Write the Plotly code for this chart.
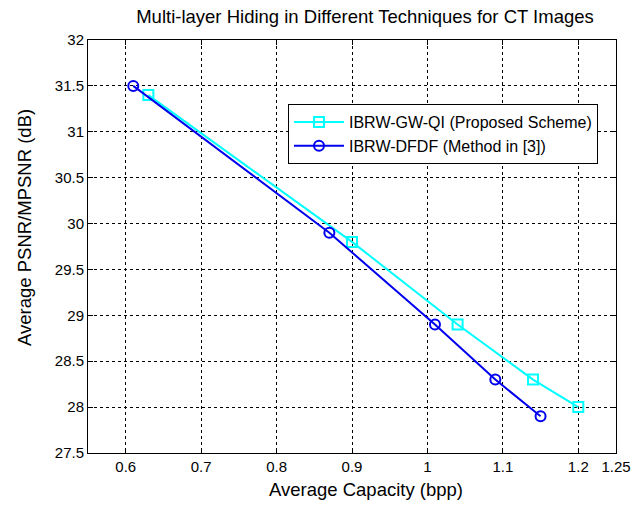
import plotly.graph_objects as go

cap_proposed = [0.63, 0.90, 1.04, 1.14, 1.20]
psnr_proposed = [31.4, 29.8, 28.9, 28.3, 28.0]
cap_dfdf = [0.61, 0.87, 1.01, 1.09, 1.15]
psnr_dfdf = [31.5, 29.9, 28.9, 28.3, 27.9]

x_ticks = [0.6, 0.7, 0.8, 0.9, 1.0, 1.1, 1.2, 1.25]
x_tick_labels = ["0.6", "0.7", "0.8", "0.9", "1", "1.1", "1.2", "1.25"]
y_ticks = [27.5, 28, 28.5, 29, 29.5, 30, 30.5, 31, 31.5, 32]
y_tick_labels = ["27.5", "28", "28.5", "29", "29.5", "30", "30.5", "31", "31.5", "32"]

font = "Liberation Sans, Arial, sans-serif"

W, H = 644, 511
L, R, T, B = 88, 28, 40, 58
PW, PH = W - L - R, H - T - B

fig = go.Figure()
fig.add_trace(go.Scatter(
    x=cap_proposed, y=psnr_proposed, mode="lines+markers",
    name="IBRW-GW-QI (Proposed Scheme)",
    line=dict(color="#00FFFF", width=2),
    marker=dict(symbol="square-open", size=10, color="#00FFFF", line=dict(width=2)),
))
fig.add_trace(go.Scatter(
    x=cap_dfdf, y=psnr_dfdf, mode="lines+markers",
    name="IBRW-DFDF (Method in [3])",
    line=dict(color="#0000EE", width=2),
    marker=dict(symbol="circle-open", size=10, color="#0000EE", line=dict(width=2)),
))

axis_common = dict(
    showline=True, linecolor="black", linewidth=1, mirror="ticks",
    ticks="inside", ticklen=5, tickcolor="black",
    showgrid=True, gridcolor="black", griddash="dot", gridwidth=1,
    zeroline=False, tickfont=dict(family=font, size=15, color="black"),
)

fig.update_layout(
    width=W, height=H,
    paper_bgcolor="white", plot_bgcolor="white",
    margin=dict(l=L, r=R, t=T, b=B),
    title=dict(text="Multi-layer Hiding in Different Techniques for CT Images",
               x=365 / W, xref="container", xanchor="center",
               y=1 - 17 / H, yref="container", yanchor="middle",
               font=dict(family=font, size=18.5, color="black")),
    xaxis=dict(range=[0.55, 1.25], tickvals=x_ticks, ticktext=x_tick_labels, **axis_common),
    yaxis=dict(range=[27.5, 32], tickvals=y_ticks, ticktext=y_tick_labels, **axis_common),
    legend=dict(x=(288 - L) / PW, y=1 - (104 - T) / PH, xanchor="left", yanchor="top",
                bgcolor="white", bordercolor="black", borderwidth=1,
                font=dict(family=font, size=16, color="black"),
                itemwidth=50, tracegroupgap=0),
    showlegend=True,
    annotations=[
        dict(text="Average Capacity (bpp)", xref="paper", yref="paper",
             x=(366 - L) / PW, y=-(489 - T - PH) / PH, xanchor="center", yanchor="middle",
             showarrow=False, font=dict(family=font, size=18.5, color="black")),
        dict(text="Average PSNR/MPSNR (dB)", xref="paper", yref="paper",
             x=(24 - L) / PW, y=(T + PH - 228) / PH, xanchor="center", yanchor="middle",
             textangle=-90, showarrow=False, font=dict(family=font, size=18.5, color="black")),
    ],
)

fig.write_html("out.html", config={"displayModeBar": False},
               post_script="document.body.style.margin='0px';")
